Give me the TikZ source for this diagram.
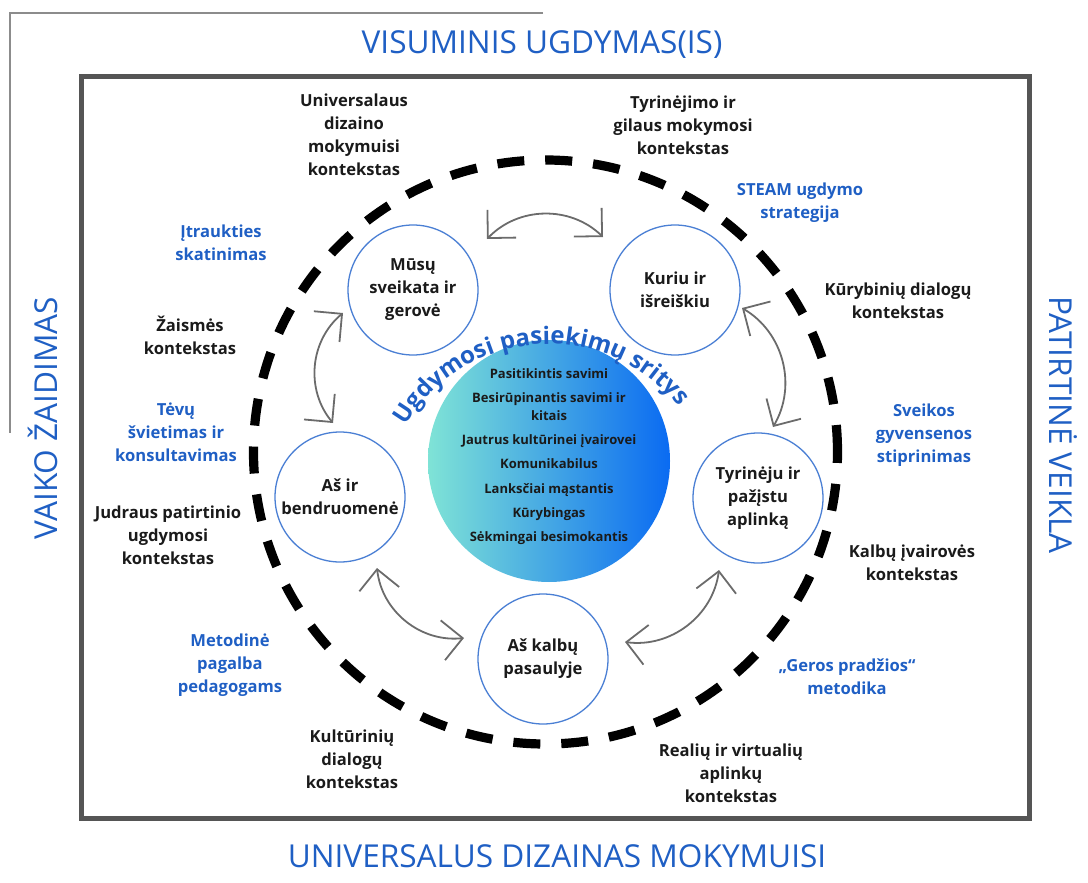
\documentclass[tikz,border=0pt]{standalone}
\usepackage{fontspec}
\setmainfont{Open Sans}
\usepackage{xcolor}
\definecolor{cFrame}{HTML}{555555}
\definecolor{cLine}{HTML}{8C8C8C}
\definecolor{cTitle}{HTML}{1F5FC4}
\definecolor{cRing}{HTML}{4A7FD4}
\definecolor{cArrow}{HTML}{6B6B6B}
\definecolor{cText}{HTML}{1A1A1A}
\definecolor{cTeal}{HTML}{7FE3D6}
\definecolor{cSky}{HTML}{5EC6F4}
\definecolor{cDeep}{HTML}{0A6BF2}
\usepackage{tikz}
\usetikzlibrary{arrows.meta,decorations.text}
\tikzset{
  node-area/.style={draw=cRing,line width=0.65pt,circle,fill=white,
    minimum size=65pt,inner sep=0pt,align=center,text=cText,
    font=\bfseries\fontsize{8.3}{11.5}\selectfont},
  node-context/.style={align=center,text=cText,
    font=\bfseries\fontsize{8.3}{11.5}\selectfont},
  node-support/.style={align=center,text=cTitle,
    font=\bfseries\fontsize{8.3}{11.5}\selectfont},
  node-title/.style={text=cTitle,font=\fontsize{15.8}{18}\selectfont},
  % bendras gradientinis branduolys
  node-core/.style={circle,minimum size=121pt,inner sep=0pt,
    left color=cTeal,middle color=cSky,right color=cDeep},
  arrow-both/.style={{Straight Barb[length=10pt,width=20pt]}-{Straight Barb[length=10pt,width=20pt]},
    line width=0.9pt,draw=cArrow},
  ring-dash/.style={draw=black,line width=4.6pt,dash pattern=on 13.5pt off 10.5pt},
}

\begin{document}
\begin{tikzpicture}[x=0.5pt,y=0.5pt]
  \useasboundingbox (0,0) rectangle (1088,-883);
  \draw[cLine,line width=0.8pt] (543,-13) -- (10,-13) -- (10,-433);
  \draw[cFrame,line width=2.5pt] (81,-77) rectangle (1029,-818);

  \node[node-title] (t-top) at (542,-45) {VISUMINIS UGDYMAS(IS)};
  \node[node-title] (t-bot) at (557,-856) {UNIVERSALUS DIZAINAS MOKYMUISI};
  \node[node-title,rotate=90] (t-left) at (43,-418) {VAIKO ŽAIDIMAS};
  \node[node-title,rotate=-90] (t-right) at (1063,-425) {PATIRTINĖ VEIKLA};

  \node[node-core] (core) at (549,-461) {};
  \node[align=center,text=cText,font=\bfseries\fontsize{6.5}{9}\selectfont] (traits) at (549,-457)
    {Pasitikintis savimi\\[3pt] Besirūpinantis savimi ir\\ kitais\\[3pt]
     Jautrus kultūrinei įvairovei\\[3pt] Komunikabilus\\[3.5pt] Lanksčiai mąstantis\\[3pt]
     Kūrybingas\\[3pt] Sėkmingai besimokantis};

  \node[node-area] (health) at (413,-290) {Mūsų\\sveikata ir\\gerovė};
  \node[node-area] (create) at (675,-290) {Kuriu ir\\išreiškiu};
  \node[node-area] (community) at (340,-497) {Aš ir\\bendruomenė};
  \node[node-area] (explore) at (758,-498) {Tyrinėju ir\\pažįstu\\aplinką};
  \node[node-area] (lang) at (543,-659) {Aš kalbų\\pasaulyje};

  \draw[ring-dash] (545.5,-452) circle[radius=292];

  \coordinate (a1) at (487,-239); \coordinate (a2) at (603,-237);
  \coordinate (b1) at (343,-313); \coordinate (b2) at (333,-423);
  \coordinate (c1) at (742,-308); \coordinate (c2) at (773,-427);
  \coordinate (d1) at (377,-568); \coordinate (d2) at (464,-638);
  \coordinate (e1) at (625,-642); \coordinate (e2) at (719,-570);
  \draw[arrow-both] (a1) to[bend left=45]  (a2);
  \draw[arrow-both] (b1) to[bend right=45] (b2);
  \draw[arrow-both] (c1) to[bend left=45]  (c2);
  \draw[arrow-both] (d1) to[bend right=45] (d2);
  \draw[arrow-both] (e1) to[bend right=45] (e2);

  \path[decorate,decoration={text along path,text align=center,text color=cTitle,
      text={|\bfseries\fontsize{12}{12}\selectfont|Ugdymosi pasiekimų sritys}}]
    (549,-510) ++(156:166) arc[start angle=156,end angle=32,radius=166];

  \node[node-context] (ctx-udl) at (354,-135) {Universalaus\\dizaino\\mokymuisi\\kontekstas};
  \node[node-context] (ctx-inq) at (683,-125) {Tyrinėjimo ir\\gilaus mokymosi\\kontekstas};
  \node[node-support] (sup-steam) at (800,-203) {STEAM ugdymo\\strategija};
  \node[node-context] (ctx-creat) at (898,-301) {Kūrybinių dialogų\\kontekstas};
  \node[node-support] (sup-health) at (924,-435) {Sveikos\\gyvensenos\\stiprinimas};
  \node[node-context] (ctx-lang) at (912,-563) {Kalbų įvairovės\\kontekstas};
  \node[node-support] (sup-start) at (847,-677) {„Geros pradžios“\\metodika};
  \node[node-context] (ctx-real) at (731,-773) {Realių ir virtualių\\aplinkų\\kontekstas};
  \node[node-context] (ctx-cult) at (352,-759) {Kultūrinių\\dialogų\\kontekstas};
  \node[node-support] (sup-method) at (230,-665) {Metodinė\\pagalba\\pedagogams};
  \node[node-context] (ctx-move) at (168,-535) {Judraus patirtinio\\ugdymosi\\kontekstas};
  \node[node-support] (sup-parent) at (176,-432) {Tėvų\\švietimas ir\\konsultavimas};
  \node[node-context] (ctx-play) at (190,-335) {Žaismės\\kontekstas};
  \node[node-support] (sup-incl) at (221,-243) {Įtraukties\\skatinimas};
\end{tikzpicture}
\end{document}
